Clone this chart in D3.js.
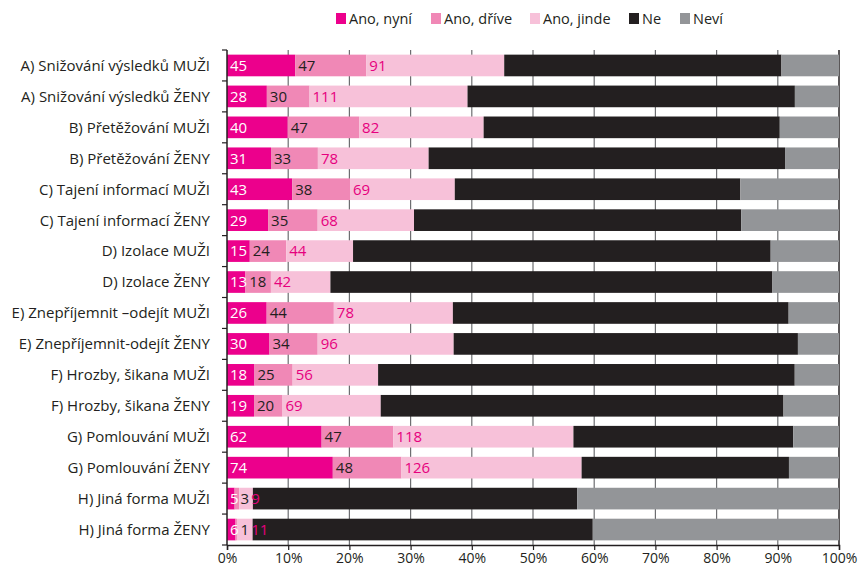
<!DOCTYPE html>
<html>
<head>
<meta charset="utf-8">
<script src="https://cdn.jsdelivr.net/npm/d3@7"></script>
<style>
	body { margin: 0; background: #fff; }
	svg { font-family: "Open Sans", sans-serif; }
</style>
</head>
<body>
<div id="chart"></div>
<script>
// categories (top to bottom)
const categories = [
	'A) Snižování výsledků MUŽI', 'A) Snižování výsledků ŽENY',
	'B) Přetěžování MUŽI', 'B) Přetěžování ŽENY',
	'C) Tajení informací MUŽI', 'C) Tajení informací ŽENY',
	'D) Izolace MUŽI', 'D) Izolace ŽENY',
	'E) Znepříjemnit –odejít MUŽI', 'E) Znepříjemnit-odejít ŽENY',
	'F) Hrozby, šikana MUŽI', 'F) Hrozby, šikana ŽENY',
	'G) Pomlouvání MUŽI', 'G) Pomlouvání ŽENY',
	'H) Jiná forma MUŽI', 'H) Jiná forma ŽENY'
]

const seriesNames = ['Ano, nyní', 'Ano, dříve', 'Ano, jinde', 'Ne', 'Neví']

// counts per series
const anoNyni  = [45, 28, 40, 31, 43, 29, 15, 13, 26, 30, 18, 19, 62, 74, 5, 6]
const anoDrive = [47, 30, 47, 33, 38, 35, 24, 18, 44, 34, 25, 20, 47, 48, 3, 1]
const anoJinde = [91, 111, 82, 78, 69, 68, 44, 42, 78, 96, 56, 69, 118, 126, 9, 11]
// Ne / Neví are not labelled
const ne       = [183, 230, 195, 251, 188, 231, 275, 312, 220, 243, 273, 283, 144, 145, 213, 239]
const nevi     = [38, 31, 39, 38, 65, 69, 45, 47, 33, 29, 29, 39, 30, 35, 172, 173]

const xTicks = [0, 0.1, 0.2, 0.3, 0.4, 0.5, 0.6, 0.7, 0.8, 0.9, 1]

const colors = ['#ec008c', '#f088b6', '#f7c1d9', '#231f20', '#939598']
const labelColors = ['#ffffff', '#231f20', '#e6007e']

const table = categories.map((c, i) => ({
	cat: c,
	'Ano, nyní': anoNyni[i],
	'Ano, dříve': anoDrive[i],
	'Ano, jinde': anoJinde[i],
	'Ne': ne[i],
	'Neví': nevi[i]
}))

const width = 860, height = 569
const margin = {top: 50, right: 21, bottom: 24, left: 227}

const svg = d3.select('#chart').append('svg')
	.attr('width', width)
	.attr('height', height)

const x = d3.scaleLinear().domain([0, 1]).range([margin.left, width - margin.right])
const y = d3.scaleBand().domain(categories)
	.range([margin.top, height - margin.bottom])
	.paddingInner(0.3).paddingOuter(0.15)

const stacked = d3.stack().keys(seriesNames).offset(d3.stackOffsetExpand)(table)

// gridlines
svg.append('g')
	.selectAll('line')
	.data(xTicks.slice(1))
	.join('line')
		.attr('x1', d => x(d)).attr('x2', d => x(d))
		.attr('y1', margin.top).attr('y2', height - margin.bottom)
		.attr('stroke', d => d === 1 ? '#231f20' : '#6d6e71')
		.attr('stroke-width', d => d === 1 ? 1.5 : 1.2)

// bars
const layer = svg.append('g')
	.selectAll('g')
	.data(stacked)
	.join('g')
		.attr('fill', (d, i) => colors[i])

layer.selectAll('rect')
	.data(d => d)
	.join('rect')
		.attr('x', d => x(d[0]))
		.attr('width', d => x(d[1]) - x(d[0]))
		.attr('y', d => y(d.data.cat))
		.attr('height', y.bandwidth())

// value labels for the three "Ano" series, pushed right when segments are too narrow
const labelG = svg.append('g')
categories.forEach((c, i) => {
	let lastEnd = -Infinity
	stacked.slice(0, 3).forEach((s, k) => {
		const p = s[i]
		const t = labelG.append('text')
			.attr('y', y(c) + y.bandwidth() / 2)
			.attr('dy', '0.36em')
			.attr('font-size', 15)
			.attr('fill', labelColors[k])
			.text(p.data[s.key])
		const xx = Math.max(x(p[0]) + 3, lastEnd + 2)
		t.attr('x', xx)
		lastEnd = xx + t.node().getComputedTextLength()
	})
})

// y axis
const step = y.step()
svg.append('line')
	.attr('x1', margin.left).attr('x2', margin.left)
	.attr('y1', margin.top).attr('y2', height - margin.bottom)
	.attr('stroke', '#231f20').attr('stroke-width', 1.5)

svg.append('g')
	.selectAll('line')
	.data(categories.map((c, i) => i).concat([categories.length]))
	.join('line')
		.attr('x1', margin.left - 5).attr('x2', margin.left)
		.attr('y1', i => margin.top + i * step)
		.attr('y2', i => margin.top + i * step)
		.attr('stroke', '#231f20').attr('stroke-width', 1.2)

svg.append('g')
	.selectAll('text')
	.data(categories)
	.join('text')
		.attr('x', margin.left - 17)
		.attr('y', d => y(d) + y.bandwidth() / 2)
		.attr('dy', '0.36em')
		.attr('text-anchor', 'end')
		.attr('font-size', 15)
		.attr('fill', '#231f20')
		.text(d => d)

// x axis
const xAxis = svg.append('g')
	.attr('transform', `translate(0,${height - margin.bottom})`)
	.call(d3.axisBottom(x).tickValues(xTicks).tickFormat(d3.format('.0%')).tickSize(5).tickPadding(3))
xAxis.select('.domain').attr('stroke', '#231f20').attr('stroke-width', 1.5)
xAxis.selectAll('.tick line').attr('stroke', '#231f20').attr('stroke-width', 1.2)
xAxis.selectAll('.tick text')
	.attr('font-size', 14)
	.attr('font-family', '"Open Sans", sans-serif')
	.attr('fill', '#231f20')

// legend
const legendX = [336, 431, 530, 629, 680]
const legend = svg.append('g')
	.selectAll('g')
	.data(seriesNames)
	.join('g')
		.attr('transform', (d, i) => `translate(${legendX[i]},13)`)

legend.append('rect')
	.attr('width', 10).attr('height', 11)
	.attr('fill', (d, i) => colors[i])

legend.append('text')
	.attr('x', 13).attr('y', 5.5)
	.attr('dy', '0.36em')
	.attr('font-size', 14.5)
	.attr('fill', '#231f20')
	.text(d => d)
</script>
</body>
</html>
